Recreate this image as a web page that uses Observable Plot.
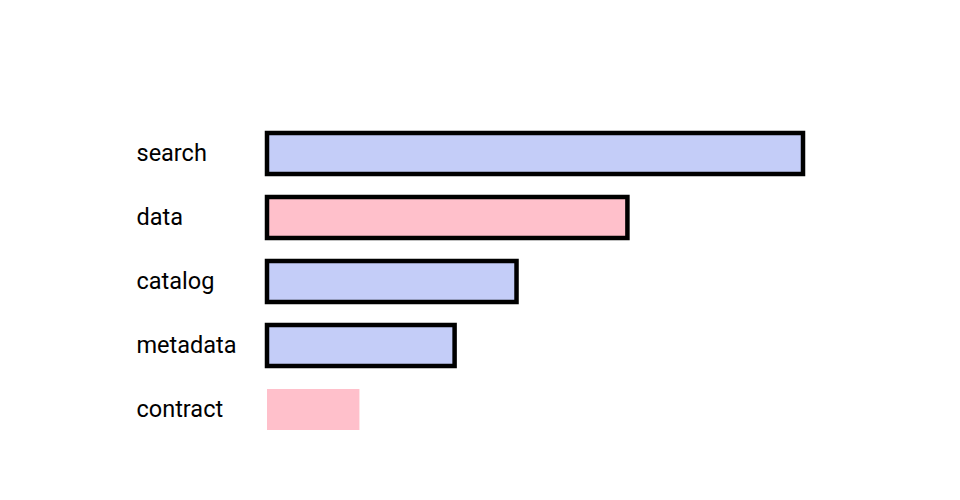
<!DOCTYPE html>
<html>
<head>
<meta charset="utf-8">
<script src="https://cdn.jsdelivr.net/npm/d3@7"></script>
<script src="https://cdn.jsdelivr.net/npm/@observablehq/plot@0.6"></script>
<style>
  html, body { margin: 0; padding: 0; background: #fff; }
  #chart { width: 960px; height: 500px; }
</style>
</head>
<body>
<div id="chart"></div>
<script>
const categories = ["search", "data", "catalog", "metadata", "contract"];
const values = [58, 39, 27, 20.3, 10];
const groups = ["a", "b", "a", "a", "b"];
const outlined = [true, true, true, true, false];

const rows = categories.map((c, i) => ({
  name: c, value: values[i], group: groups[i], outlined: outlined[i]
}));

const chart = Plot.plot({
  width: 960,
  height: 500,
  marginLeft: 267,
  marginRight: 157,
  marginTop: 109,
  marginBottom: 47,
  style: { fontFamily: "Roboto, sans-serif", background: "#fff" },
  x: { domain: [0, 58], axis: null },
  y: { domain: categories, axis: null, paddingInner: 0.36, paddingOuter: 0.36 },
  color: { domain: ["a", "b"], range: ["#c4cdf8", "#ffc0cb"] },
  marks: [
    Plot.barX(rows.filter(d => !d.outlined), { x: "value", y: "name", fill: "group" }),
    Plot.barX(rows.filter(d => d.outlined), { x: "value", y: "name", fill: "group", stroke: "black", strokeWidth: 4.5 }),
    Plot.text(rows, { x: 0, y: "name", text: "name", textAnchor: "start", dx: -131, dy: -1, fontSize: 23.5, fill: "black" })
  ]
});
document.getElementById("chart").appendChild(chart);
</script>
</body>
</html>
